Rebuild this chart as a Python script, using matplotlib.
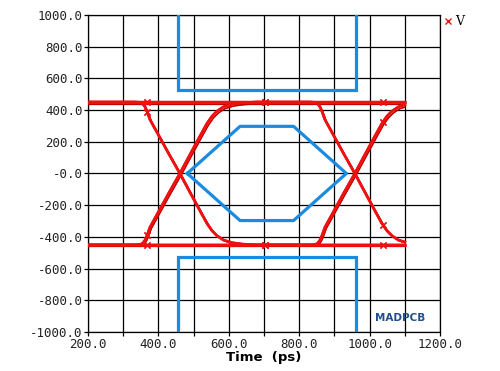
import numpy as np
import matplotlib
matplotlib.use("Agg")
import matplotlib.pyplot as plt
from matplotlib.lines import Line2D

# ---- data ----
# rising edge shape (first transition), time in ps, voltage in mV
rise_t = [335, 348, 356, 362, 368, 376, 400, 430, 461, 490, 520, 538, 552, 566, 585, 610, 640, 680]
rise_v = [-450, -448, -440, -420, -390, -340, -243, -122, 0, 120, 243, 315, 360, 392, 420, 437, 446, 450]
ui = 497            # spacing between the two crossings (ps)
t_start, t_end = 200, 1100
level_hi, level_lo = 450, -450
alt_hi, alt_lo = 438, -457
marker_t = [368, 703, 1038]

# eye mask (blue)
mask_top_t = [455, 455, 960, 960]
mask_top_v = [1000, 528, 528, 1000]
mask_bot_t = [455, 455, 960, 960]
mask_bot_v = [-1000, -528, -528, -1000]
hex_t = [482, 632, 784, 934, 784, 632, 482]
hex_v = [0, 297, 297, 0, -297, -297, 0]

xticks = [200, 400, 600, 800, 1000, 1200]
yticks = [1000, 800, 600, 400, 200, 0, -200, -400, -600, -800, -1000]
ytick_labels = ["1000.0", "800.0", "600.0", "400.0", "200.0", "-0.0",
                "-200.0", "-400.0", "-600.0", "-800.0", "-1000.0"]
xtick_labels = ["200.0", "400.0", "600.0", "800.0", "1000.0", "1200.0"]

# ---- build eye traces from the edge shape ----
rt = np.array(rise_t, float)
rv = np.array(rise_v, float)


def lvl(k, before, hi, lo):
    if k == 'r':
        return lo if before else hi
    if k == 'f':
        return hi if before else lo
    return hi if k == 'h' else lo


def trace(first, second, hi, lo, shift=0.0):
    """first/second: 'r','f','h','l' for edge type at each crossing."""
    t_all = [t_start]
    v_all = [lvl(first, True, hi, lo)]
    for i, k in enumerate([first, second]):
        off = i * ui + shift
        if k in ('r', 'f'):
            frac = (rv - level_lo) / (level_hi - level_lo)
            v = lo + frac * (hi - lo) if k == 'r' else hi - frac * (hi - lo)
            t_all.extend((rt + off).tolist())
            v_all.extend(v.tolist())
    t_all.append(t_end + 200)
    v_all.append(lvl(second, False, hi, lo))
    t_all = np.array(t_all)
    v_all = np.array(v_all)
    keep = t_all <= t_end
    t_k = np.append(t_all[keep], t_end)
    v_k = np.append(v_all[keep], np.interp(t_end, t_all, v_all))
    return t_k, v_k


combos = [('h', 'h'), ('l', 'l'), ('r', 'f'), ('f', 'r'),
          ('r', 'h'), ('f', 'l'), ('h', 'f'), ('l', 'r')]

fig = plt.figure(figsize=(5.0, 3.71), dpi=100)
ax = fig.add_axes([0.176, 0.105, 0.704, 0.855])

red = '#ee1111'
dark = '#c40000'

for a, b in combos:
    t, v = trace(a, b, alt_hi, alt_lo, shift=4)
    ax.plot(t, v, color=dark, lw=0.9, zorder=3)
for a, b in combos:
    t, v = trace(a, b, level_hi, level_lo)
    ax.plot(t, v, color=red, lw=1.9, zorder=4)
    mv = np.interp(marker_t, t, v)
    ax.plot(marker_t, mv, ls='none', marker='x', ms=4.5, mew=1.0, color=red, zorder=5)

blue = '#1b8be0'
ax.plot(mask_top_t, mask_top_v, color=blue, lw=2.3, zorder=6, solid_joinstyle='miter')
ax.plot(mask_bot_t, mask_bot_v, color=blue, lw=2.3, zorder=6, solid_joinstyle='miter')
ax.plot(hex_t, hex_v, color=blue, lw=2.3, zorder=6)

ax.set_xlim(200, 1200)
ax.set_ylim(-1000, 1000)
ax.set_xticks(np.arange(200, 1201, 100))
ax.set_xticklabels(["" if x not in xticks else xtick_labels[xticks.index(x)]
                    for x in range(200, 1201, 100)])
ax.set_yticks(yticks)
ax.set_yticklabels(ytick_labels)
ax.grid(True, color='black', lw=0.9)
ax.set_axisbelow(True)
for s in ax.spines.values():
    s.set_color('black')
    s.set_linewidth(0.9)
ax.tick_params(axis='both', length=3, width=0.9, color='black', pad=1)
for lab in ax.get_xticklabels() + ax.get_yticklabels():
    lab.set_fontfamily('DejaVu Sans Mono')
    lab.set_fontsize(9)
    lab.set_color('#222222')

ax.set_xlabel('Time  (ps)', fontsize=9.5, fontweight='bold', labelpad=0,
              fontfamily='DejaVu Sans')

ax.text(0.815, 0.045, 'MADPCB', transform=ax.transAxes, color='#1f4e88',
        fontsize=7.5, fontweight='bold', ha='left', va='center', zorder=7)

handle = Line2D([], [], ls='none', marker='x', color=red, ms=4, mew=1.0)
fig.legend([handle], ['V'], loc='upper left', bbox_to_anchor=(0.865, 0.99),
           frameon=False, handlelength=0.6, handletextpad=0.3,
           prop={'family': 'DejaVu Serif', 'size': 9})

fig.savefig('out.png', dpi=100)
